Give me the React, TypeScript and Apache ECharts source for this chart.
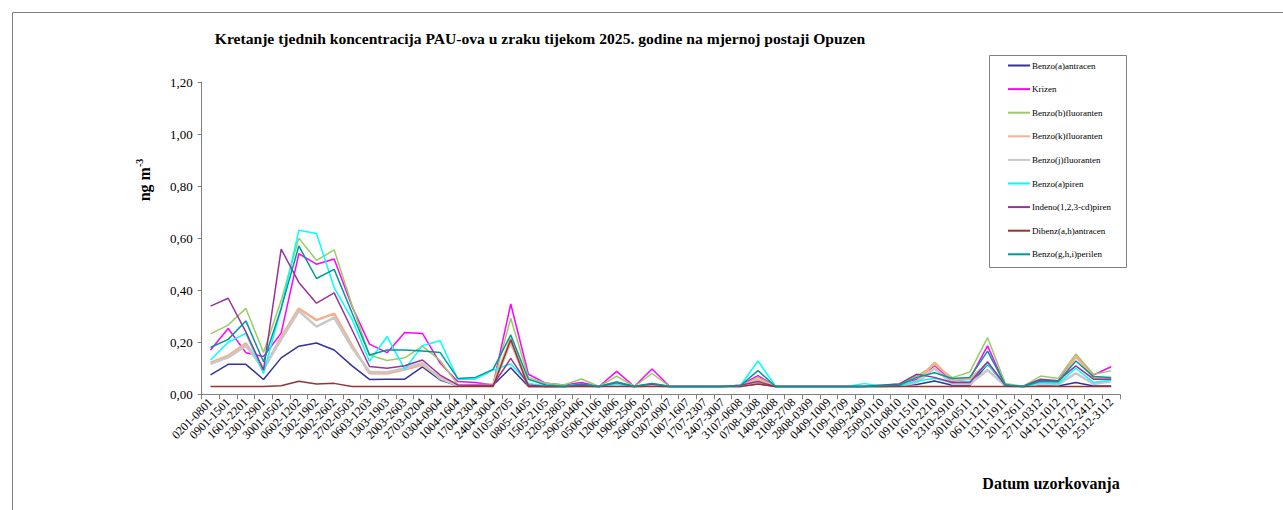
import React, { useEffect, useRef } from "react";
import * as echarts from "echarts";

const categories = [
  "0201-0801", "0901-1501", "1601-2201", "2301-2901", "3001-0502", "0602-1202", "1302-1902", "2002-2602",
  "2702-0503", "0603-1203", "1303-1903", "2003-2603", "2703-0204", "0304-0904", "1004-1604", "1704-2304",
  "2404-3004", "0105-0705", "0805-1405", "1505-2105", "2205-2805", "2905-0406", "0506-1106", "1206-1806",
  "1906-2506", "2606-0207", "0307-0907", "1007-1607", "1707-2307", "2407-3007", "3107-0608", "0708-1308",
  "1408-2008", "2108-2708", "2808-0309", "0409-1009", "1109-1709", "1809-2409", "2509-0110", "0210-0810",
  "0910-1510", "1610-2210", "2310-2910", "3010-0511", "0611-1211", "1311-1911", "2011-2611", "2711-0312",
  "0412-1012", "1112-1712", "1812-2412", "2512-3112",
];

const benzoAAntracen = [
  0.075, 0.115, 0.115, 0.057, 0.14, 0.185, 0.197, 0.17, 0.11, 0.057, 0.058, 0.058, 0.105, 0.055, 0.033, 0.033,
  0.035, 0.102, 0.03, 0.03, 0.03, 0.035, 0.03, 0.04, 0.03, 0.035, 0.03, 0.03, 0.03, 0.03, 0.032, 0.04,
  0.03, 0.03, 0.03, 0.03, 0.03, 0.03, 0.03, 0.033, 0.038, 0.051, 0.035, 0.035, 0.115, 0.035, 0.03, 0.035,
  0.032, 0.045, 0.032, 0.032,
];
const krizen = [
  0.17, 0.253, 0.16, 0.145, 0.235, 0.54, 0.5, 0.52, 0.34, 0.193, 0.16, 0.237, 0.234, 0.12, 0.049, 0.045,
  0.036, 0.347, 0.077, 0.042, 0.036, 0.045, 0.03, 0.088, 0.03, 0.097, 0.03, 0.03, 0.03, 0.03, 0.035, 0.072,
  0.03, 0.03, 0.03, 0.03, 0.03, 0.032, 0.033, 0.035, 0.058, 0.11, 0.05, 0.06, 0.186, 0.035, 0.03, 0.055,
  0.05, 0.147, 0.074, 0.106,
];
const benzoBFluoranten = [
  0.232, 0.266, 0.33, 0.161, 0.36, 0.6, 0.515, 0.555, 0.345, 0.151, 0.13, 0.14, 0.185, 0.13, 0.037, 0.037,
  0.04, 0.292, 0.065, 0.042, 0.036, 0.059, 0.03, 0.07, 0.03, 0.08, 0.03, 0.03, 0.03, 0.03, 0.033, 0.065,
  0.03, 0.03, 0.03, 0.03, 0.03, 0.032, 0.036, 0.04, 0.07, 0.113, 0.064, 0.086, 0.218, 0.042, 0.03, 0.07,
  0.061, 0.155, 0.077, 0.09,
];
const benzoKFluoranten = [
  0.122, 0.148, 0.196, 0.095, 0.22, 0.33, 0.285, 0.31, 0.19, 0.081, 0.08, 0.095, 0.113, 0.065, 0.035, 0.035,
  0.035, 0.215, 0.035, 0.03, 0.03, 0.035, 0.03, 0.045, 0.03, 0.04, 0.03, 0.03, 0.03, 0.03, 0.032, 0.055,
  0.03, 0.03, 0.03, 0.03, 0.03, 0.03, 0.032, 0.035, 0.05, 0.122, 0.055, 0.06, 0.12, 0.035, 0.03, 0.045,
  0.042, 0.145, 0.065, 0.06,
];
const benzoJFluoranten = [
  0.117, 0.142, 0.186, 0.1, 0.21, 0.32, 0.26, 0.295, 0.18, 0.087, 0.085, 0.1, 0.12, 0.06, 0.033, 0.033,
  0.033, 0.2, 0.033, 0.03, 0.03, 0.033, 0.03, 0.04, 0.03, 0.035, 0.03, 0.03, 0.03, 0.03, 0.03, 0.045,
  0.03, 0.03, 0.03, 0.03, 0.03, 0.03, 0.03, 0.032, 0.045, 0.1, 0.04, 0.04, 0.093, 0.033, 0.03, 0.04,
  0.038, 0.081, 0.04, 0.05,
];
const benzoAPiren = [
  0.132, 0.2, 0.234, 0.08, 0.33, 0.63, 0.618, 0.41, 0.29, 0.127, 0.222, 0.096, 0.187, 0.206, 0.058, 0.058,
  0.093, 0.117, 0.042, 0.033, 0.03, 0.035, 0.03, 0.04, 0.03, 0.04, 0.03, 0.03, 0.03, 0.03, 0.033, 0.128,
  0.03, 0.03, 0.03, 0.03, 0.03, 0.041, 0.033, 0.033, 0.05, 0.062, 0.045, 0.05, 0.117, 0.035, 0.03, 0.045,
  0.04, 0.1, 0.045, 0.055,
];
const indenoPiren = [
  0.339, 0.369, 0.24, 0.093, 0.558, 0.43, 0.35, 0.39, 0.25, 0.107, 0.1, 0.11, 0.132, 0.074, 0.036, 0.035,
  0.035, 0.138, 0.036, 0.03, 0.03, 0.035, 0.03, 0.045, 0.03, 0.04, 0.03, 0.03, 0.03, 0.03, 0.035, 0.049,
  0.03, 0.03, 0.03, 0.03, 0.03, 0.03, 0.035, 0.04, 0.077, 0.065, 0.045, 0.045, 0.125, 0.035, 0.03, 0.058,
  0.052, 0.109, 0.058, 0.058,
];
const dibenzAntracen = [
  0.03, 0.03, 0.03, 0.03, 0.033, 0.05, 0.04, 0.042, 0.03, 0.03, 0.03, 0.03, 0.03, 0.03, 0.03, 0.03,
  0.03, 0.21, 0.03, 0.03, 0.03, 0.03, 0.03, 0.03, 0.03, 0.03, 0.03, 0.03, 0.03, 0.03, 0.03, 0.04,
  0.03, 0.03, 0.03, 0.03, 0.03, 0.03, 0.03, 0.03, 0.03, 0.03, 0.03, 0.03, 0.03, 0.03, 0.03, 0.03,
  0.03, 0.03, 0.03, 0.03,
];
const benzoGhiPerilen = [
  0.18, 0.211, 0.282, 0.125, 0.33, 0.57, 0.445, 0.48, 0.315, 0.151, 0.17, 0.17, 0.166, 0.161, 0.061, 0.065,
  0.096, 0.228, 0.058, 0.036, 0.03, 0.04, 0.03, 0.047, 0.03, 0.042, 0.03, 0.03, 0.03, 0.03, 0.033, 0.091,
  0.03, 0.03, 0.03, 0.03, 0.03, 0.03, 0.033, 0.035, 0.065, 0.083, 0.061, 0.065, 0.166, 0.037, 0.03, 0.05,
  0.048, 0.128, 0.068, 0.065,
];

const seriesNames = [
  "Benzo(a)antracen", "Krizen", "Benzo(b)fluoranten", "Benzo(k)fluoranten", "Benzo(j)fluoranten",
  "Benzo(a)piren", "Indeno(1,2,3-cd)piren", "Dibenz(a,h)antracen", "Benzo(g,h,i)perilen",
];
const seriesData = [
  benzoAAntracen, krizen, benzoBFluoranten, benzoKFluoranten, benzoJFluoranten,
  benzoAPiren, indenoPiren, dibenzAntracen, benzoGhiPerilen,
];
const seriesColors = [
  "#333399", "#FF00FF", "#99CC66", "#F7B08E", "#C8C8C8", "#00FFFF", "#993399", "#993333", "#009999",
];
const seriesWidths = [1.5, 1.5, 1.5, 2.5, 2.5, 1.5, 1.5, 1.5, 1.5];

const yTicks = [0, 0.2, 0.4, 0.6, 0.8, 1.0, 1.2];

const FONT = "'Liberation Serif', 'Times New Roman', serif";

export default function App() {
  const ref = useRef<HTMLDivElement>(null);
  useEffect(() => {
    const chart = echarts.init(ref.current as HTMLDivElement, null, { renderer: "svg" });
    chart.setOption({
      animation: false,
      backgroundColor: "#ffffff",
      textStyle: { fontFamily: FONT },
      grid: { left: 201.7, right: 163, top: 82, bottom: 115.7, containLabel: false },
      legend: {
        orient: "vertical",
        left: 1008,
        top: 61,
        padding: 0,
        icon: "rect",
        itemWidth: 22,
        itemHeight: 2,
        itemGap: 14.6,
        selectedMode: false,
        data: seriesNames,
        textStyle: { fontFamily: FONT, fontSize: 9, color: "#000", padding: [0, 0, 0, -3] },
      },
      xAxis: {
        type: "category",
        data: categories,
        boundaryGap: true,
        axisLine: { lineStyle: { color: "#808080", width: 1 } },
        axisTick: { show: true, length: 5, lineStyle: { color: "#808080" } },
        axisLabel: { interval: 0, rotate: 45, margin: 6, fontFamily: FONT, fontSize: 12, color: "#000" },
        splitLine: { show: false },
      },
      yAxis: {
        type: "value",
        min: yTicks[0],
        max: yTicks[yTicks.length - 1],
        interval: 0.2,
        axisLine: { show: true, lineStyle: { color: "#808080", width: 1 } },
        axisTick: { show: true, length: 4, lineStyle: { color: "#808080" } },
        axisLabel: {
          margin: 9,
          fontFamily: FONT,
          fontSize: 13,
          color: "#000",
          formatter: (v: number) => v.toFixed(2).replace(".", ","),
        },
        splitLine: { show: false },
      },
      series: seriesNames.map((name, i) => ({
        name,
        type: "line",
        data: seriesData[i],
        symbol: "none",
        lineStyle: { color: seriesColors[i], width: seriesWidths[i] },
        itemStyle: { color: seriesColors[i] },
        emphasis: { disabled: true },
      })),
      graphic: [
        {
          type: "rect",
          shape: { x: 12.5, y: 12.5, width: 1300, height: 520 },
          style: { fill: "none", stroke: "#7f7f7f", lineWidth: 1 },
          silent: true,
        },
        {
          type: "rect",
          shape: { x: 989.5, y: 55.5, width: 137, height: 212 },
          style: { fill: "none", stroke: "#808080", lineWidth: 1 },
          silent: true,
        },
        {
          type: "text",
          x: 540,
          y: 38,
          style: {
            text: "Kretanje tjednih koncentracija PAU-ova u zraku tijekom 2025. godine na mjernoj postaji Opuzen",
            fontFamily: FONT,
            fontSize: 15.6,
            fontWeight: "bold",
            fill: "#000",
            align: "center",
            verticalAlign: "middle",
          },
        },
        {
          type: "text",
          x: 1051,
          y: 483,
          style: {
            text: "Datum uzorkovanja",
            fontFamily: FONT,
            fontSize: 16,
            fontWeight: "bold",
            fill: "#000",
            align: "center",
            verticalAlign: "middle",
          },
        },
        {
          type: "text",
          x: 144,
          y: 180,
          rotation: Math.PI / 2,
          style: {
            text: "{a|ng m}{b|-3}",
            align: "center",
            verticalAlign: "middle",
            fill: "#000",
            rich: {
              a: { fontFamily: FONT, fontSize: 16, fontWeight: "bold", lineHeight: 20, fill: "#000" },
              b: { fontFamily: FONT, fontSize: 10, fontWeight: "bold", verticalAlign: "top", lineHeight: 20, fill: "#000" },
            },
          },
        },
      ],
    });
    return () => chart.dispose();
  }, []);
  return (
    <div
      ref={ref}
      style={{ position: "fixed", left: 0, top: 0, width: 1283, height: 510, background: "#fff" }}
    />
  );
}
